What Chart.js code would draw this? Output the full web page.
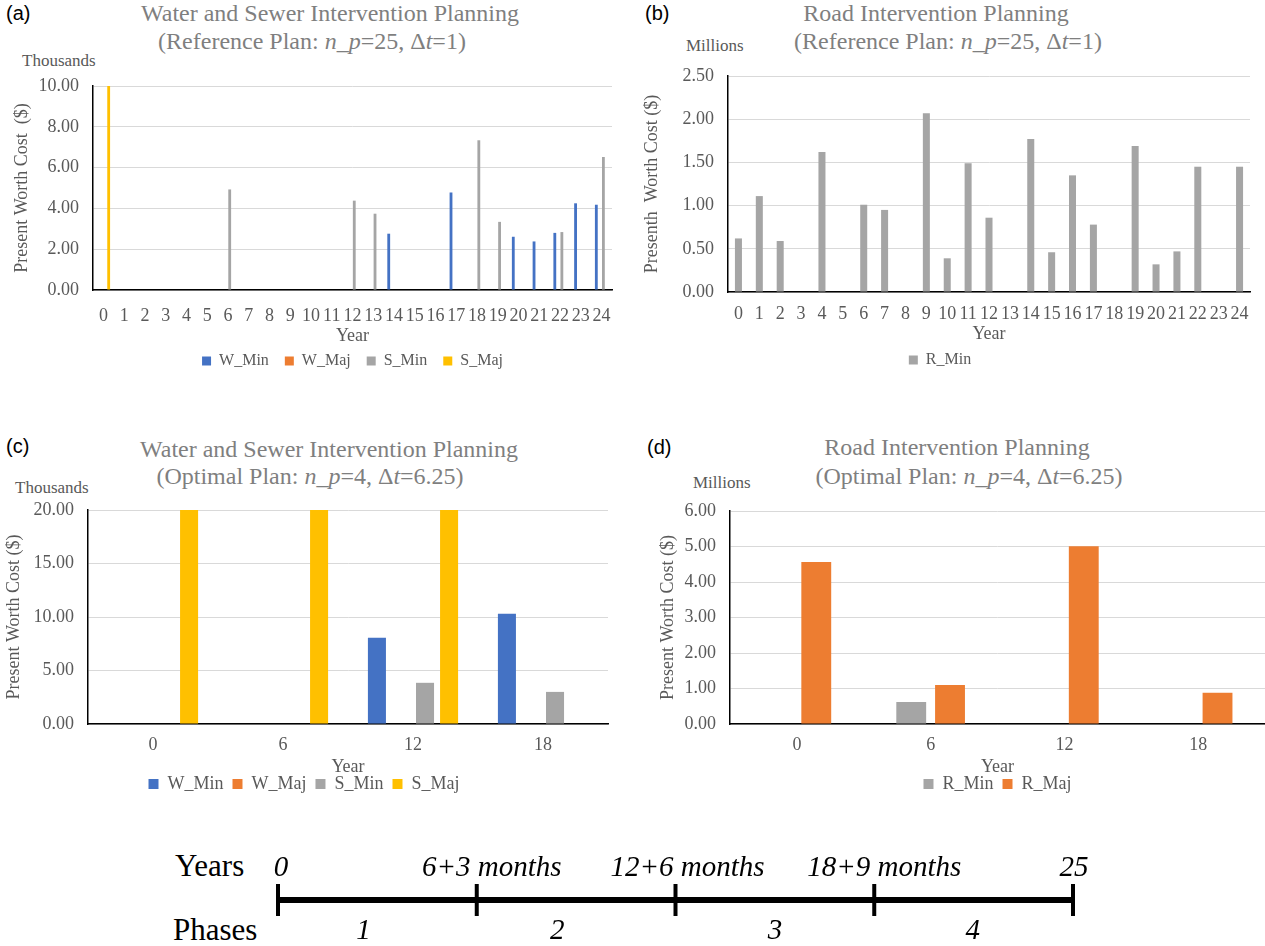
<!DOCTYPE html>
<html>
<head>
<meta charset="utf-8">
<title>Intervention Planning</title>
<script src="https://cdn.jsdelivr.net/npm/chart.js@4.4.1/dist/chart.umd.min.js"></script>
<style>
  body { margin: 0; background: #fff; width: 1265px; height: 946px; position: relative; overflow: hidden; font-family: "Liberation Serif", "Times New Roman", serif; }
  canvas { position: absolute; }
  .panel { position: absolute; font-family: "Liberation Sans", Arial, sans-serif; font-size: 20px; line-height: 20px; color: #000; }
  .ttl { position: absolute; width: 600px; text-align: center; font-size: 24px; line-height: 24px; color: #7f7f7f; white-space: nowrap; }
  .unit { position: absolute; font-size: 17px; line-height: 18px; color: #595959; white-space: nowrap; }
  .big { position: absolute; font-size: 31px; line-height: 32px; color: #000; }
</style>
</head>
<body>

<div class="panel" style="left:6px; top:3px">(a)</div>
<div class="ttl" style="left:30px; top:1px">Water and Sewer Intervention Planning</div>
<div class="ttl" style="left:12px; top:29px">(Reference Plan: <i>n_p</i>=25, Δ<i>t</i>=1)</div>
<div class="unit" style="left:22px; top:52px">Thousands</div>

<div class="panel" style="left:645px; top:3px">(b)</div>
<div class="ttl" style="left:636px; top:1px">Road Intervention Planning</div>
<div class="ttl" style="left:648px; top:29px">(Reference Plan: <i>n_p</i>=25, Δ<i>t</i>=1)</div>
<div class="unit" style="left:686px; top:37px">Millions</div>

<div class="panel" style="left:6px; top:436px">(c)</div>
<div class="ttl" style="left:29px; top:437px">Water and Sewer Intervention Planning</div>
<div class="ttl" style="left:10px; top:464px">(Optimal Plan: <i>n_p</i>=4, Δ<i>t</i>=6.25)</div>
<div class="unit" style="left:15px; top:479px">Thousands</div>

<div class="panel" style="left:647px; top:437px">(d)</div>
<div class="ttl" style="left:657px; top:435px">Road Intervention Planning</div>
<div class="ttl" style="left:669px; top:464px">(Optimal Plan: <i>n_p</i>=4, Δ<i>t</i>=6.25)</div>
<div class="unit" style="left:693px; top:474px">Millions</div>

<div class="big" style="left:175px; top:850px">Years</div>
<div class="big" style="left:173px; top:914px">Phases</div>

<canvas id="chartA" width="630" height="309" style="left:0px; top:70px"></canvas>
<canvas id="chartB" width="635" height="318" style="left:630px; top:60px"></canvas>
<canvas id="chartC" width="630" height="308" style="left:0px; top:495px"></canvas>
<canvas id="chartD" width="635" height="308" style="left:630px; top:495px"></canvas>
<canvas id="timeline" width="950" height="106" style="left:170px; top:840px"></canvas>

<script>
// 1. DATOS
// (a) agua y alcantarillado, plan de referencia (miles de $)
const yearsRef = ['0','1','2','3','4','5','6','7','8','9','10','11','12',
                  '13','14','15','16','17','18','19','20','21','22','23','24'];
const wMinRef = [null,null,null,null,null,null,null,null,null,null,null,null,null,
                 null,2.76,null,null,4.78,null,null,2.61,2.38,2.80,4.25,4.18];
const wMajRef = [null,null,null,null,null,null,null,null,null,null,null,null,null,
                 null,null,null,null,null,null,null,null,null,null,null,null];
const sMinRef = [null,null,null,null,null,null,4.93,null,null,null,null,null,4.38,
                 3.74,null,null,null,null,7.34,3.34,null,null,2.84,null,6.52];
const sMajRef = [10.0,null,null,null,null,null,null,null,null,null,null,null,null,
                 null,null,null,null,null,null,null,null,null,null,null,null];

// (b) carreteras, plan de referencia (millones de $)
const rMinRef = [0.62,1.11,0.59,null,1.62,null,1.01,0.95,null,2.07,0.39,1.49,0.86,
                 null,1.77,0.46,1.35,0.78,null,1.69,0.32,0.47,1.45,null,1.45];

// (c) agua y alcantarillado, plan optimo (miles de $)
const yearsOpt = ['0','6','12','18'];
const wMinOpt = [null, null, 8.07, 10.3];
const wMajOpt = [null, null, null, null];
const sMinOpt = [null, null, 3.85, 3.0];
const sMajOpt = [20.0, 20.0, 20.0, null];

// (d) carreteras, plan optimo (millones de $)
const rMinOpt = [null, 0.62, null, null];
const rMajOpt = [4.56, 1.10, 5.01, 0.88];

// linea de tiempo de fases
const phaseYears = [0, 6.25, 12.5, 18.75, 25];
const phaseYearLabels = ['0', '6+3 months', '12+6 months', '18+9 months', '25'];
const phaseNames = ['1', '2', '3', '4'];

// 2. ESTILOS COMUNES
const SERIF = '"Liberation Serif", "Times New Roman", serif';
const GRIS_TXT = '#595959';
const AZUL = '#4472C4', NARANJA = '#ED7D31', GRIS = '#A5A5A5', AMARILLO = '#FFC000';

function serie(label, data, color, catPct, barPct) {
    return { label: label, data: data, backgroundColor: color, borderWidth: 0,
             categoryPercentage: catPct, barPercentage: barPct };
}

function opciones(c) {
    return {
        responsive: false, animation: false,
        layout: { padding: c.pad },
        plugins: {
            legend: {
                position: 'bottom',
                fullSize: c.legFull,
                labels: { boxWidth: c.box, boxHeight: c.box, color: GRIS_TXT,
                          font: { family: SERIF, size: c.legFont }, padding: c.legPad }
            },
            tooltip: { enabled: false }
        },
        scales: {
            x: {
                grid: { display: false, drawTicks: false },
                border: { display: true, color: '#000', width: 1.5 },
                ticks: { color: GRIS_TXT, font: { family: SERIF, size: 18 }, padding: c.xTickPad,
                         maxRotation: 0, autoSkip: false },
                title: { display: true, text: 'Year', color: GRIS_TXT, font: { family: SERIF, size: 18 },
                         padding: { top: 0, bottom: c.xTitlePad } },
                afterFit: s => { s.height = c.xH; }
            },
            y: {
                min: 0, max: c.max,
                grid: { color: '#d9d9d9', lineWidth: 1, drawTicks: false },
                border: { display: true, color: '#000', width: 1.5 },
                ticks: { stepSize: c.step, color: GRIS_TXT, font: { family: SERIF, size: 18 }, padding: 14,
                         callback: v => v.toFixed(2) },
                title: { display: true, text: c.yTitle, color: GRIS_TXT, font: { family: SERIF, size: 18 },
                         padding: { top: c.yTitlePad, bottom: 0 } },
                // ancho fijo del eje y sin margen extra por las etiquetas
                afterFit: s => { s.width = c.yW; s.paddingTop = 0; s.paddingBottom = 0; }
            }
        }
    };
}

// 3. GRAFICOS
new Chart(document.getElementById('chartA'), {
    type: 'bar',
    data: {
        labels: yearsRef,
        datasets: [
            serie('W_Min', wMinRef, AZUL, 0.68, 0.8),
            serie('W_Maj', wMajRef, NARANJA, 0.68, 0.8),
            serie('S_Min', sMinRef, GRIS, 0.68, 0.8),
            serie('S_Maj', sMajRef, AMARILLO, 0.68, 0.8)
        ]
    },
    options: opciones({ pad: { left: 0, top: 16, right: 18, bottom: 0 }, yW: 93, xH: 47,
                        xTickPad: 15, xTitlePad: -10, yTitlePad: 11, max: 10, step: 2,
                        yTitle: 'Present Worth Cost  ($)', box: 9, legFont: 16, legPad: 16, legFull: false })
});

new Chart(document.getElementById('chartB'), {
    type: 'bar',
    data: {
        labels: yearsRef,
        datasets: [ serie('R_Min', rMinRef, GRIS, 0.8, 0.42) ]
    },
    options: opciones({ pad: { left: 0, top: 16, right: 15, bottom: 0 }, yW: 98, xH: 52,
                        xTickPad: 11, xTitlePad: -1, yTitlePad: 11, max: 2.5, step: 0.5,
                        yTitle: 'Presenth  Worth Cost ($)', box: 9, legFont: 16, legPad: 8, legFull: true })
});

new Chart(document.getElementById('chartC'), {
    type: 'bar',
    data: {
        labels: yearsOpt,
        datasets: [
            serie('W_Min', wMinOpt, AZUL, 0.74, 0.75),
            serie('W_Maj', wMajOpt, NARANJA, 0.74, 0.75),
            serie('S_Min', sMinOpt, GRIS, 0.74, 0.75),
            serie('S_Maj', sMajOpt, AMARILLO, 0.74, 0.75)
        ]
    },
    options: opciones({ pad: { left: 0, top: 15, right: 22, bottom: 0 }, yW: 88, xH: 42,
                        xTickPad: 10, xTitlePad: -12, yTitlePad: 3, max: 20, step: 5,
                        yTitle: 'Present Worth Cost ($)', box: 10, legFont: 18, legPad: 9, legFull: true })
});

new Chart(document.getElementById('chartD'), {
    type: 'bar',
    data: {
        labels: yearsOpt,
        datasets: [
            serie('R_Min', rMinOpt, GRIS, 0.58, 0.77),
            serie('R_Maj', rMajOpt, NARANJA, 0.58, 0.77)
        ]
    },
    options: opciones({ pad: { left: 0, top: 16, right: 0, bottom: 0 }, yW: 100, xH: 42,
                        xTickPad: 10, xTitlePad: -12, yTitlePad: 27, max: 6, step: 1,
                        yTitle: 'Present Worth Cost ($)', box: 10, legFont: 18, legPad: 9, legFull: false })
});

// 4. LINEA DE TIEMPO (años y fases)
const textosFases = {
    id: 'textosFases',
    afterDraw(chart) {
        const ctx = chart.ctx;
        const x = chart.scales.x;
        const desplAnios = [3, 15, 12, 10, 1];
        const desplFases = [-14, -19, 0, -1];
        ctx.save();
        ctx.fillStyle = '#000';
        ctx.font = 'italic 29px ' + SERIF;
        ctx.textAlign = 'center';
        ctx.textBaseline = 'middle';
        phaseYears.forEach((a, i) => {
            ctx.fillText(phaseYearLabels[i], x.getPixelForValue(a) + desplAnios[i], 28);
        });
        phaseNames.forEach((n, i) => {
            const xm = (x.getPixelForValue(phaseYears[i]) + x.getPixelForValue(phaseYears[i + 1])) / 2;
            ctx.fillText(n, xm + desplFases[i], 91);
        });
        ctx.restore();
    }
};

new Chart(document.getElementById('timeline'), {
    type: 'scatter',
    data: {
        datasets: [
            { type: 'line', data: [{ x: phaseYears[0], y: 0 }, { x: phaseYears[phaseYears.length - 1], y: 0 }],
              borderColor: '#000', borderWidth: 6, pointRadius: 0, clip: false },
            { data: phaseYears.map(a => ({ x: a, y: 0 })), pointStyle: 'line', rotation: 90,
              pointRadius: 16, borderColor: '#000', borderWidth: 4, clip: false }
        ]
    },
    options: {
        responsive: false, animation: false,
        layout: { padding: { left: 108, right: 47, top: 40, bottom: 26 } },
        plugins: { legend: { display: false }, tooltip: { enabled: false } },
        scales: {
            x: { type: 'linear', min: 0, max: 25, display: false },
            y: { min: -1, max: 1, display: false }
        }
    },
    plugins: [textosFases]
});
</script>
</body>
</html>
